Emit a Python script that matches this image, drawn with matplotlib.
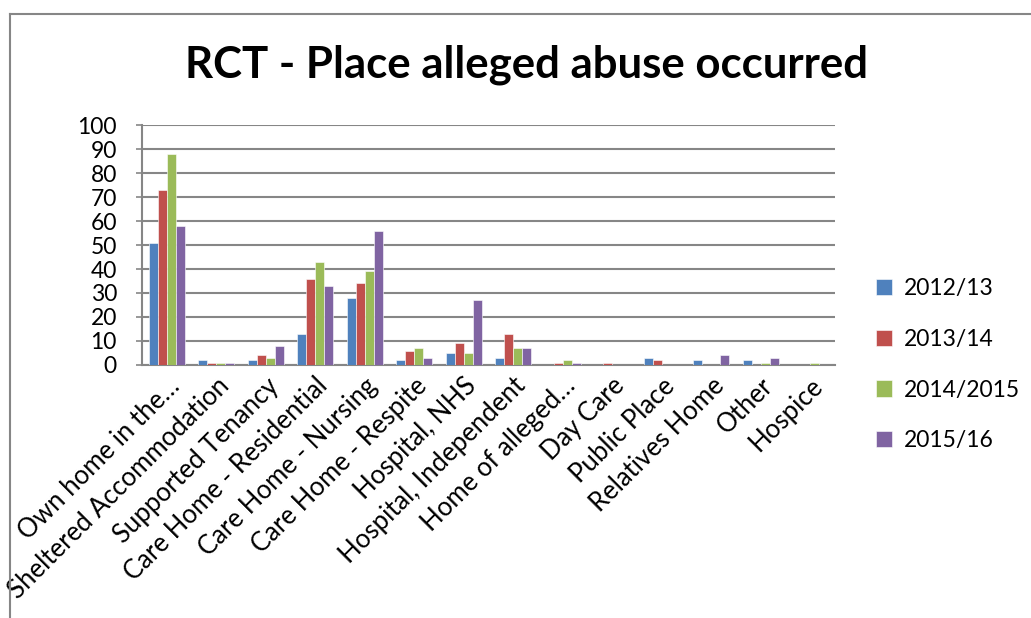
import matplotlib
matplotlib.use("Agg")
import matplotlib.pyplot as plt
import numpy as np
from matplotlib.lines import Line2D

categories = [
    "Own home in the\u2026", "Sheltered Accommodation", "Supported Tenancy",
    "Care Home - Residential", "Care Home - Nursing", "Care Home - Respite",
    "Hospital, NHS", "Hospital, Independent", "Home of alleged\u2026",
    "Day Care", "Public Place", "Relatives Home", "Other", "Hospice",
]
years = ["2012/13", "2013/14", "2014/2015", "2015/16"]
v2012 = [51, 2, 2, 13, 28, 2, 5, 3, 0, 0, 3, 2, 2, 0]
v2013 = [73, 1, 4, 36, 34, 6, 9, 13, 1, 1, 2, 0, 0, 0]
v2014 = [88, 1, 3, 43, 39, 7, 5, 7, 2, 0, 0, 0, 1, 1]
v2015 = [58, 1, 8, 33, 56, 3, 27, 7, 1, 0, 0, 4, 3, 0]
series = [v2012, v2013, v2014, v2015]
colors = ["#4F81BD", "#C0504D", "#9BBB59", "#8064A2"]

plt.rcParams["font.family"] = ["Lato", "DejaVu Sans"]

fig = plt.figure(figsize=(10.31, 6.18), dpi=100)
ax = fig.add_axes([0.1377, 0.4094, 0.6722, 0.3883])

# outer chart border (left and top edges visible)
bx, by = 9.5 / 1031, 1 - 13.5 / 618
fig.lines.append(Line2D([bx, bx], [0, by], transform=fig.transFigure,
                        color="#868686", lw=1.5))
fig.lines.append(Line2D([bx, 1], [by, by], transform=fig.transFigure,
                        color="#868686", lw=1.5))

x = np.arange(len(categories))
w = 0.18
for i, (vals, c, lab) in enumerate(zip(series, colors, years)):
    ax.bar(x + (i - 1.5) * w, vals, width=w, color=c, label=lab,
           edgecolor="white", linewidth=0.4, zorder=3)

ax.set_xlim(-0.5, len(categories) - 0.5)
ax.set_ylim(0, 100)
ax.set_yticks(range(0, 101, 10))
ax.tick_params(axis="y", labelsize=16.5, length=4, color="#868686",
               width=1.2, pad=14)
ax.tick_params(axis="x", length=0, pad=6)
ax.set_xticks(x)
ax.set_xticklabels(categories, rotation=45, ha="right",
                   rotation_mode="anchor", fontsize=18.5)
ax.grid(axis="y", color="#868686", lw=1.5, zorder=0)
for s in ["top", "right"]:
    ax.spines[s].set_visible(False)
for s in ["left", "bottom"]:
    ax.spines[s].set_color("#868686")
    ax.spines[s].set_linewidth(1.5)

fig.text(0.511, 0.895, "RCT - Place alleged abuse occurred",
         ha="center", va="center", fontsize=31.5, fontweight="bold")

fig.legend(loc="center left", bbox_to_anchor=(0.83, 0.41),
           frameon=False, fontsize=16.5, handlelength=0.7, handleheight=0.7,
           handletextpad=0.5, labelspacing=1.3)

fig.savefig("out.png", dpi=100)
